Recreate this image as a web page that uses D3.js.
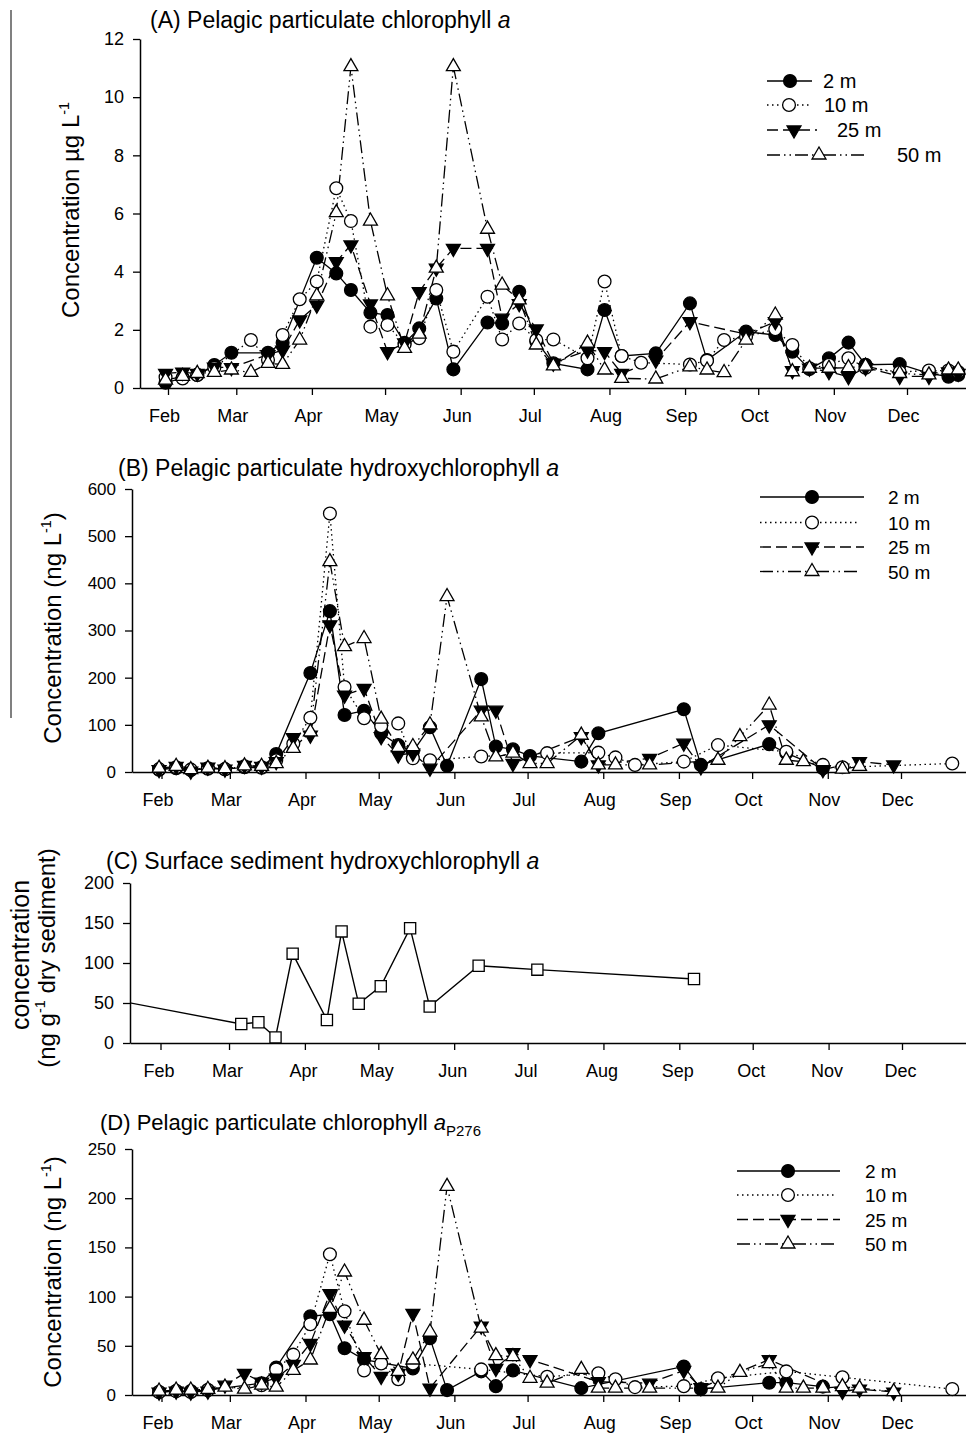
<!DOCTYPE html>
<html>
<head>
<meta charset="utf-8">
<script src="https://cdn.jsdelivr.net/npm/d3@7"></script>
<style>
  body { margin: 0; background: #fff; }
  svg { display: block; font-family: "Liberation Sans", Arial, Helvetica, sans-serif; }
</style>
</head>
<body>
<svg id="fig" width="966" height="1434"></svg>
<script>
// ---------- data ----------
const depths = ["2 m", "10 m", "25 m", "50 m"];

// water-column sampling dates (shared by panels A, B and D)
const sampleDates = ["2009-01-31","2009-02-07","2009-02-13","2009-02-20","2009-02-27","2009-03-07",
  "2009-03-14","2009-03-20","2009-03-27","2009-04-03","2009-04-11","2009-04-17","2009-04-25",
  "2009-05-02","2009-05-09","2009-05-15","2009-05-22","2009-05-29","2009-06-12","2009-06-18",
  "2009-06-25","2009-07-02","2009-07-09","2009-07-23","2009-07-30","2009-08-06","2009-08-14",
  "2009-08-20","2009-09-03","2009-09-10","2009-09-17","2009-09-26","2009-10-08","2009-10-15",
  "2009-10-22","2009-10-30","2009-11-07","2009-11-14","2009-11-28","2009-12-10","2009-12-18",
  "2009-12-22"];

// (A) chlorophyll a, µg/L
const chlA_2m  = [0.18,0.35,0.45,0.79,1.21,null,1.21,1.56,null,4.48,3.94,3.37,2.59,2.51,1.55,2.05,3.08,0.64,2.25,2.22,3.31,1.6,0.85,0.64,2.68,1.1,null,1.19,2.91,0.96,null,1.94,1.82,1.25,0.65,1.02,1.56,0.8,0.82,0.5,0.39,0.45];
const chlA_10m = [0.37,0.33,0.45,0.7,null,1.65,0.96,1.82,3.05,3.66,6.87,5.74,2.11,2.17,1.5,1.71,3.37,1.25,3.14,1.67,2.22,1.65,1.67,1.02,3.66,1.1,0.87,null,0.81,0.94,1.65,1.76,2.02,1.48,0.68,0.8,1.02,0.7,0.55,0.6,0.6,0.55];
const chlA_25m = [0.5,0.54,0.5,0.72,0.7,null,1.15,1.3,2.34,2.85,4.34,4.92,2.89,1.25,1.55,3.31,4.12,4.8,4.8,2.4,2.9,2.03,0.85,1.3,1.25,0.5,null,0.96,2.28,null,null,1.85,2.28,0.6,0.68,0.56,0.39,0.7,0.4,0.4,0.55,0.5];
const chlA_50m = [0.27,0.4,0.5,0.54,0.62,0.54,0.85,0.81,1.65,3.17,6.03,11.05,5.74,3.17,1.36,1.85,4.12,11.05,5.46,3.54,3.03,1.48,0.76,1.54,0.62,0.33,null,0.31,0.73,0.62,0.53,1.65,2.51,0.56,0.68,0.68,0.7,0.75,0.5,0.45,0.62,0.62];

// (B) hydroxychlorophyll a, ng/L
const hchl_2m  = [5,8,4,7,6,10,9,38,null,210,341,121,130,82,57,43,95,13,197,54,48,34,null,22,82,null,null,null,133,15,null,null,59,40,null,8,null,null,null,null,null,null];
const hchl_10m = [6,10,5,8,6,12,10,25,60,115,548,180,114,97,103,29,25,null,33,null,null,null,40,null,41,31,15,null,22,null,57,null,null,43,null,15,10,null,null,null,null,18];
const hchl_25m = [5,12,2,10,6,14,12,22,73,78,312,163,177,75,36,40,8,null,131,131,18,null,null,75,15,null,null,29,61,11,null,null,100,null,null,5,null,22,15,null,null,null];
const hchl_50m = [8,12,5,8,7,13,12,18,50,85,446,266,283,112,52,54,100,372,117,32,40,18,18,78,15,15,null,15,null,null,25,75,142,25,22,null,6,12,null,null,null,null];

// (C) surface sediment hydroxychlorophyll a, ng/g dry sediment
const sedDates  = ["2009-01-01","2009-03-06","2009-03-13","2009-03-20","2009-03-27","2009-04-10","2009-04-16",
  "2009-04-23","2009-05-02","2009-05-14","2009-05-22","2009-06-11","2009-07-05","2009-09-07"];
const sedValues = [61,23.7,26,7,111.7,28.8,139.5,49,71,143.5,45.5,96.6,91.7,80];

// (D) chlorophyll a P276, ng/L
const p276_2m  = [3,4,4,5,null,null,12,28,null,80,82,47.5,36,null,null,27,57.6,5,24,9,25,null,null,7,null,null,null,null,29,6,null,null,12.5,12.5,null,8.5,null,null,null,null,null,null];
const p276_10m = [3,4,3,5,null,null,10,26,41,72,143,85,25,32,16,32,null,null,26,null,null,null,18.6,null,22,16,8,null,9,null,17,null,null,24,null,null,18,null,null,null,null,6];
const p276_25m = [3,4,3,4,10,22,13,17,31,52.5,103,71,39,19,22,83,7,null,70,27,43,36,null,null,13.5,null,null,12,25,7.4,null,null,36,null,null,null,3.6,6,3,null,null,null];
const p276_50m = [4,5,5,5.8,8,6,10,8,25,35.6,88,125,76,41,24,35.6,64,212,68,40,39,17,12,26,7,7,null,7,null,null,7,23,32,7,7,7,8.5,7,3.4,null,null,null];

const ticksA = [0,2,4,6,8,10,12];
const ticksB = [0,100,200,300,400,500,600];
const ticksC = [0,50,100,150,200];
const ticksD = [0,50,100,150,200,250];

// ---------- drawing helpers ----------
const parse = d3.timeParse("%Y-%m-%d");
const svg = d3.select("#fig");

const depthStyle = {
  "2 m":  { dash: null,                  kind: "circle",  fill: "#000" },
  "10 m": { dash: "1.5,3.5",             kind: "circle",  fill: "#fff" },
  "25 m": { dash: "11,5",                kind: "triDown", fill: "#000" },
  "50 m": { dash: "13,4,1.5,4,1.5,4",    kind: "triUp",   fill: "#fff" }
};

function monthScale(febPx, decPx, x0, x1) {
  const s = d3.scaleTime().domain([parse("2009-02-01"), parse("2009-12-01")]).range([febPx, decPx]);
  return d3.scaleTime().domain([s.invert(x0), s.invert(x1)]).range([x0, x1]);
}

function addMarker(g, kind, fill) {
  let m;
  if (kind === "circle") m = g.append("circle").attr("r", 6.4);
  else if (kind === "square") m = g.append("path").attr("d", d3.symbol(d3.symbolSquare, 125)());
  else {
    m = g.append("path").attr("d", d3.symbol(d3.symbolTriangle, 84)());
    if (kind === "triDown") m.attr("transform", "rotate(180)");
  }
  m.attr("fill", fill).attr("stroke", "#000").attr("stroke-width", 1.3);
}

function drawAxes(g, x, y, yTicks, labelShift, xFont, yFont) {
  const xa = g.append("g").attr("transform", `translate(0,${y.range()[0]})`)
    .call(d3.axisBottom(x).ticks(d3.timeMonth.every(1)).tickFormat(d3.timeFormat("%b"))
      .tickSize(7).tickSizeOuter(0).tickPadding(14));
  xa.selectAll("text").attr("dx", labelShift).attr("font-size", xFont);
  const ya = g.append("g").attr("transform", `translate(${x.range()[0]},0)`)
    .call(d3.axisLeft(y).tickValues(yTicks).tickSize(7).tickSizeOuter(0).tickPadding(9));
  ya.selectAll("text").attr("font-size", yFont);
  [xa, ya].forEach(a => {
    a.select(".domain").attr("stroke-width", 1.5);
    a.selectAll(".tick line").attr("stroke-width", 1.3);
    a.selectAll("text").attr("fill", "#000")
      .attr("font-family", '"Liberation Sans", Arial, sans-serif');
  });
}

function drawDepthSeries(g, x, y, dates, seriesList) {
  const pts = seriesList.map(vals => dates.map((d, i) => ({ d: parse(d), v: vals[i] })).filter(p => p.v != null));
  pts.forEach((p, k) => {
    const st = depthStyle[depths[k]];
    g.append("path").datum(p)
      .attr("d", d3.line().x(q => x(q.d)).y(q => y(q.v)))
      .attr("fill", "none").attr("stroke", "#000").attr("stroke-width", 1.3)
      .attr("stroke-dasharray", st.dash);
  });
  pts.forEach((p, k) => {
    const st = depthStyle[depths[k]];
    g.append("g").selectAll("g").data(p).join("g")
      .attr("transform", q => `translate(${x(q.d)},${y(q.v)})`)
      .each(function () { addMarker(d3.select(this), st.kind, st.fill); });
  });
}

function drawLegend(g, lx0, lx1, mx, tx, ys, size) {
  depths.forEach((name, k) => {
    const st = depthStyle[name];
    g.append("line").attr("x1", lx0[k]).attr("x2", lx1[k]).attr("y1", ys[k]).attr("y2", ys[k])
      .attr("stroke", "#000").attr("stroke-width", 1.3).attr("stroke-dasharray", st.dash);
    addMarker(g.append("g").attr("transform", `translate(${mx[k]},${ys[k]})`), st.kind, st.fill);
    g.append("text").attr("x", tx[k]).attr("y", ys[k] + 7).attr("font-size", size).text(name);
  });
}

function title(g, x, y, main, ital, sub, size) {
  const t = g.append("text").attr("x", x).attr("y", y).attr("font-size", size).text(main);
  t.append("tspan").attr("font-style", "italic").text(ital);
  if (sub) t.append("tspan").attr("font-size", size * 0.68).attr("dy", 6).text(sub);
}

function yLabel(g, x, y, before, after, size) {
  const t = g.append("text").attr("transform", `translate(${x},${y}) rotate(-90)`)
    .attr("text-anchor", "middle").attr("font-size", size).text(before);
  t.append("tspan").attr("font-size", size * 0.6).attr("dy", -size * 0.42).text("-1");
  if (after) t.append("tspan").attr("dy", size * 0.42).text(after);
}

// thin rule at the left margin
svg.append("line").attr("x1", 11).attr("x2", 11).attr("y1", 10).attr("y2", 718)
  .attr("stroke", "#808080").attr("stroke-width", 2);

// ---------- (A) ----------
{
  const g = svg.append("g");
  const x = monthScale(168, 907, 140, 966);
  const y = d3.scaleLinear().domain([0, 12]).range([388, 39]);
  drawAxes(g, x, y, ticksA, -4, 18, 18);
  drawDepthSeries(g, x, y, sampleDates, [chlA_2m, chlA_10m, chlA_25m, chlA_50m]);
  title(g, 150, 28, "(A) Pelagic particulate chlorophyll ", "a", null, 23);
  yLabel(g, 79, 210, "Concentration µg L", null, 24);
  drawLegend(g, [767, 767, 767, 767], [812, 809, 817, 865], [790, 789, 794, 819], [823, 824, 837, 897], [81, 105, 130, 155], 20);
}

// ---------- (B) ----------
{
  const g = svg.append("g");
  const x = monthScale(161.5, 901, 132, 966);
  const y = d3.scaleLinear().domain([0, 600]).range([772, 489]);
  drawAxes(g, x, y, ticksB, -4, 18, 17);
  drawDepthSeries(g, x, y, sampleDates, [hchl_2m, hchl_10m, hchl_25m, hchl_50m]);
  title(g, 118, 476, "(B) Pelagic particulate hydroxychlorophyll ", "a", null, 23);
  yLabel(g, 61, 628, "Concentration (ng L", ")", 24);
  drawLegend(g, [760, 760, 760, 760], [864, 860, 864, 860], [812, 812, 812, 812], [888, 888, 888, 888], [497, 522.5, 547, 571.5], 19);
}

// ---------- (C) ----------
{
  const g = svg.append("g");
  const x = monthScale(160.5, 902, 130, 966);
  const y = d3.scaleLinear().domain([0, 200]).range([1043, 883]);
  drawAxes(g, x, y, ticksC, -2, 18, 18);
  svg.append("defs").append("clipPath").attr("id", "clipC")
    .append("rect").attr("x", 130).attr("y", 860).attr("width", 836).attr("height", 200);
  const pts = sedDates.map((d, i) => ({ d: parse(d), v: sedValues[i] }));
  const pg = g.append("g").attr("clip-path", "url(#clipC)");
  pg.append("path").datum(pts)
    .attr("d", d3.line().x(q => x(q.d)).y(q => y(q.v)))
    .attr("fill", "none").attr("stroke", "#000").attr("stroke-width", 1.4);
  pg.selectAll("g.sq").data(pts.filter(q => q.d >= x.domain()[0])).join("g").attr("class", "sq")
    .attr("transform", q => `translate(${x(q.d)},${y(q.v)})`)
    .each(function () { addMarker(d3.select(this), "square", "#fff"); });
  title(g, 106, 869, "(C) Surface sediment hydroxychlorophyll ", "a", null, 23);
  g.append("text").attr("transform", "translate(29,955) rotate(-90)").attr("text-anchor", "middle")
    .attr("font-size", 25).text("concentration");
  yLabel(g, 55, 958, "(ng g", " dry sediment)", 24);
}

// ---------- (D) ----------
{
  const g = svg.append("g");
  const x = monthScale(161.5, 901, 132, 966);
  const y = d3.scaleLinear().domain([0, 250]).range([1395, 1149]);
  drawAxes(g, x, y, ticksD, -4, 18, 17);
  drawDepthSeries(g, x, y, sampleDates, [p276_2m, p276_10m, p276_25m, p276_50m]);
  title(g, 100, 1130, "(D) Pelagic particulate chlorophyll ", "a", "P276", 22);
  yLabel(g, 61, 1272, "Concentration (ng L", ")", 24);
  drawLegend(g, [737, 737, 737, 737], [840, 837, 840, 837], [788, 788, 788, 788], [865, 865, 865, 865], [1171, 1195, 1219.5, 1244], 19);
}
</script>
</body>
</html>
